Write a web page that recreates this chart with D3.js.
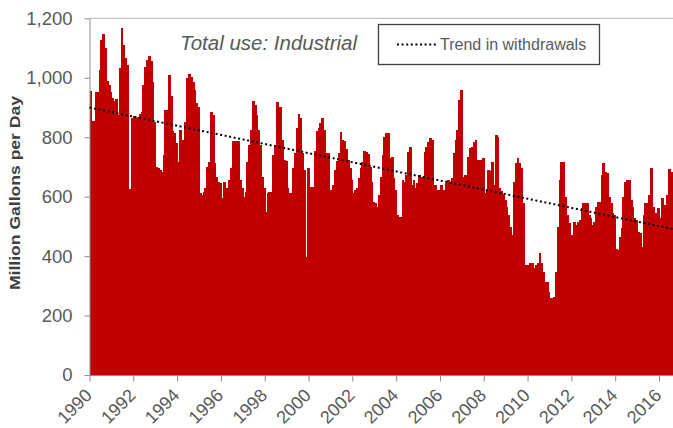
<!DOCTYPE html>
<html><head><meta charset="utf-8">
<script src="https://cdn.jsdelivr.net/npm/d3@7/dist/d3.min.js"></script>
<style>body{margin:0;background:#fff}svg{display:block}text{font-family:"Liberation Sans",Arial,sans-serif}</style>
</head><body>
<svg id="c" width="673" height="428"></svg>
<script>
// Monthly industrial withdrawals, Jan 1990 .. Aug 2016 (million gallons per day)
const startYear = 1990;
const values = [957,853,853,952,952,1027,1128,1147,1100,988,977,953,932,922,930,876,1033,1167,1111,1066,1044,625,625,864,870,864,
869,877,886,976,1037,1060,1074,1055,985,852,700,695,690,684,740,890,890,1010,940,820,815,780,718,824,790,723,852,
1000,1012,1004,985,960,914,903,611,606,617,628,700,718,886,875,712,667,650,645,594,650,589,628,656,695,787,787,787,787,656,630,600,617,718,774,824,922,908,875,824,774,667,628,550,611,617,617,740,774,
919,813,900,790,723,720,629,613,613,696,746,830,878,864,746,690,398,696,634,634,634,753,820,830,849,864,824,
746,748,622,622,640,690,720,746,818,790,788,759,723,696,656,611,622,628,662,696,718,754,750,742,700,650,583,578,
566,606,667,740,802,813,813,729,734,662,622,538,533,533,656,650,673,751,768,640,656,628,645,673,667,662,751,768,785,796,790,640,640,622,622,640,622,617,645,656,645,662,746,790,824,925,959,667,673,656,734,762,
768,785,790,723,723,723,730,611,620,690,685,718,640,807,800,628,620,610,590,566,538,499,470,650,712,729,712,695,578,370,370,325,376,376,359,370,376,409,376,348,314,314,280,258,258,263,348,499,656,
718,718,600,538,510,454,471,516,505,516,521,561,578,578,580,538,527,505,516,566,583,583,673,712,684,679,600,578,544,538,425,420,465,493,600,650,656,656,589,566,527,521,482,477,430,538,578,578,606,698,566,540,545,561,527,595,550,572,606,693,684,667];
const yearTicks = [1990,1992,1994,1996,1998,2000,2002,2004,2006,2008,2010,2012,2014,2016];
const yTicks = [0,200,400,600,800,1000,1200];
const trendMonths = [0, 319.7];
const trendValues = [900, 491];
const titleText = "Total use: Industrial";
const legendText = "Trend in withdrawals";
const yLabel = "Million Gallons per Day";

const svg = d3.select("#c");
const x = d3.scaleLinear().domain([0, 312]).range([89.5, 659]);
const y = d3.scaleLinear().domain([0, 1200]).range([375, 18.3]);
const right = 673;

// bars
svg.append("g").attr("shape-rendering", "crispEdges").selectAll("rect").data(values).join("rect")
  .attr("x", (d, i) => x(i))
  .attr("width", (d, i) => x(i + 1) - x(i) + 1)
  .attr("y", d => y(d))
  .attr("height", d => y(0) - y(d))
  .attr("fill", "#C00000");

// top border
svg.append("line").attr("x1", 89.5).attr("x2", right).attr("y1", y(1200)).attr("y2", y(1200))
  .attr("stroke", "#b3b3b3").attr("stroke-width", 1);

// y axis
const ya = svg.append("g").attr("transform", "translate(89.5,0)")
  .call(d3.axisLeft(y).tickValues(yTicks).tickFormat(d3.format(",")).tickSize(5).tickSizeOuter(0).tickPadding(12));
ya.select(".domain").attr("stroke", "#8c8c8c");
ya.selectAll(".tick line").attr("stroke", "#8c8c8c");
ya.selectAll(".tick text").attr("fill", "#595959").style("font-size", "18.5px").style("font-family", "Liberation Sans, Arial, sans-serif");

// x axis
const xa = svg.append("g").attr("transform", "translate(0,375.5)")
  .call(d3.axisBottom(x).tickValues(yearTicks.map(yr => (yr - startYear) * 12))
    .tickFormat(m => String(startYear + m / 12)).tickSize(6).tickSizeOuter(0));
xa.select(".domain").remove();
xa.append("line").attr("x1", 89.5).attr("x2", right).attr("y1", 0).attr("y2", 0).attr("stroke", "#8c8c8c");
xa.selectAll(".tick line").attr("stroke", "#8c8c8c");
xa.selectAll(".tick text").attr("fill", "#595959").attr("y", null).attr("dy", null)
  .attr("text-anchor", "end").attr("transform", "translate(3,21) rotate(-45)")
  .style("font-size", "18px").style("font-family", "Liberation Sans, Arial, sans-serif");

// trend line
const line = d3.line().x(d => x(d[0])).y(d => y(d[1]));
svg.append("path").datum(trendMonths.map((m, i) => [m, trendValues[i]]))
  .attr("d", line).attr("fill", "none").attr("stroke", "#000").attr("stroke-width", 2)
  .attr("stroke-dasharray", "2,2.6");

// y label
svg.append("text").attr("transform", "translate(20,193) rotate(-90)")
  .attr("text-anchor", "middle").attr("fill", "#404040")
  .style("font-size", "14px").style("font-weight", "bold")
  .attr("textLength", 194).attr("lengthAdjust", "spacingAndGlyphs").text(yLabel);

// title
svg.append("text").attr("x", 180).attr("y", 50).attr("fill", "#595959")
  .style("font-size", "20.5px").style("font-style", "italic").text(titleText);

// legend
const lg = svg.append("g");
lg.append("rect").attr("x", 378.5).attr("y", 24.5).attr("width", 221).attr("height", 40)
  .attr("fill", "#fff").attr("stroke", "#404040").attr("stroke-width", 1.3);
lg.append("line").attr("x1", 397).attr("x2", 437).attr("y1", 44.5).attr("y2", 44.5)
  .attr("stroke", "#000").attr("stroke-width", 2).attr("stroke-dasharray", "2,2.6");
lg.append("text").attr("x", 440).attr("y", 50).attr("fill", "#595959")
  .style("font-size", "16px").text(legendText);
</script>
</body></html>
